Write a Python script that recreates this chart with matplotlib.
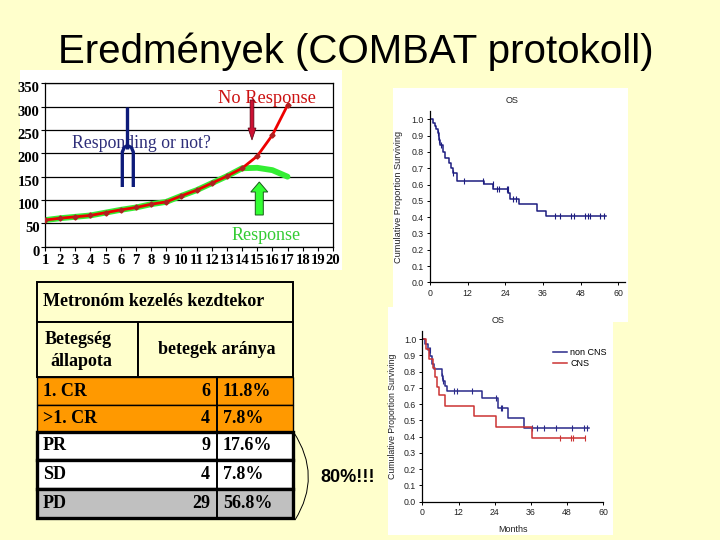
import numpy as np
import matplotlib
matplotlib.use('Agg')
import matplotlib.pyplot as plt
from matplotlib.patches import Rectangle, FancyArrow, PathPatch
from matplotlib.path import Path
from matplotlib.transforms import ScaledTranslation
from matplotlib import font_manager

# ---------------- data ----------------
weeks = list(range(1, 21))
week_labels = [str(w) for w in weeks]
y_ticks = [0, 50, 100, 150, 200, 250, 300, 350]

no_resp_x = list(range(1, 18))
no_resp_y = [57, 61, 64, 67, 73, 79, 84, 91, 96, 109, 121, 136, 151, 168, 194, 239, 303]
resp_x = list(range(1, 18))
resp_y = [57, 61, 64, 67, 73, 79, 84, 91, 96, 109, 121, 136, 151, 168, 169, 164, 150]

km_xticks = [0, 12, 24, 36, 48, 60]
km_yticks = [0.0, 0.1, 0.2, 0.3, 0.4, 0.5, 0.6, 0.7, 0.8, 0.9, 1.0]

# OS, all patients
km1_t = [0, 1.1, 1.5, 2.0, 2.4, 2.8, 3.3, 4.0, 4.8, 6.2, 6.7, 7.2, 8.5, 17.2, 20.2, 24.9, 25.5, 28.5, 34.0, 37.0, 56.0]
km1_s = [1.0, 0.98, 0.96, 0.94, 0.915, 0.875, 0.845, 0.80, 0.76, 0.735, 0.70, 0.668, 0.624, 0.603, 0.573, 0.546, 0.509, 0.479, 0.44, 0.407, 0.407]
km1_cens = [2.5, 3.0, 3.4, 7.4, 10.8, 16.8, 20.0, 21.4, 22.0, 24.4, 24.8, 26.6, 27.4,
            39.7, 41.3, 45.0, 45.8, 49.4, 50.2, 51.0, 54.3, 55.5]

# OS by CNS status
noncns_t = [0, 0.9, 1.8, 2.6, 3.1, 3.9, 6.4, 6.9, 7.4, 8.2, 19.9, 25.2, 28.3, 33.8, 55.2]
noncns_s = [1.0, 0.967, 0.935, 0.898, 0.844, 0.813, 0.775, 0.74, 0.711, 0.68, 0.635, 0.578, 0.512, 0.451, 0.451]
noncns_cens = [2.3, 2.5, 6.6, 7.0, 10.6, 11.4, 16.4, 24.4, 26.1, 26.5, 36.2, 37.9, 40.4, 44.2, 49.7, 53.7, 54.5]

cns_t = [0, 1.2, 2.3, 3.6, 4.2, 4.75, 5.6, 7.5, 17.2, 24.4, 36.4, 54.0]
cns_s = [1.0, 0.94, 0.88, 0.82, 0.768, 0.707, 0.656, 0.59, 0.527, 0.457, 0.39, 0.39]
cns_cens = [45.5, 49.2, 49.8, 54.0]

table_title = 'Metronóm kezelés kezdtekor'
table_head1 = ['Betegség', 'állapota']
table_head2 = 'betegek aránya'
table_rows = ['1. CR', '>1. CR', 'PR', 'SD', 'PD']
table_n = [6, 4, 9, 4, 29]
table_pct = ['11.8%', '7.8%', '17.6%', '7.8%', '56.8%']
row_colors = ['#FF9900', '#FF9900', '#FFFFFF', '#FFFFFF', '#C0C0C0']

# ---------------- figure ----------------
W, H = 720, 540
BG = '#FFFFCC'
plt.rcParams['font.family'] = ['Liberation Sans', 'DejaVu Sans']
SERIF = ['Liberation Serif', 'DejaVu Serif']
fig = plt.figure(figsize=(W / 100, H / 100), dpi=100, facecolor=BG)


def px_axes(x0, y0, x1, y1, z=1):
    a = fig.add_axes([x0 / W, 1 - y1 / H, (x1 - x0) / W, (y1 - y0) / H])
    a.set_zorder(z)
    return a


# background / drawing layer in pixel coordinates
bg = px_axes(0, 0, W, H, z=0)
bg.set_xlim(0, W)
bg.set_ylim(H, 0)
bg.axis('off')

# white panels
bg.add_patch(Rectangle((20, 70), 322, 200, fc='white', ec='none'))
bg.add_patch(Rectangle((393, 88), 235, 234, fc='white', ec='none'))
bg.add_patch(Rectangle((388, 307), 225, 228, fc='white', ec='none'))

# title
names = {f.name for f in font_manager.fontManager.ttflist}
if 'Liberation Sans Narrow' in names:
    bg.text(356, 63, 'Eredmények (COMBAT protokoll)', ha='center', va='baseline',
            fontsize=34, family=['Liberation Sans Narrow', 'Liberation Sans'])
else:
    bg.text(356, 63, 'Eredmények (COMBAT protokoll)', ha='center', va='baseline',
            fontsize=29, family=['Liberation Sans', 'DejaVu Sans'])

# ---------------- line chart ----------------
ax = px_axes(45, 83.3, 333, 246.7, z=1)
ax.set_facecolor('none')
ax.set_xlim(1, 20)
ax.set_ylim(0, 350)
ax.set_yticks(y_ticks)
ax.set_yticklabels([str(v) for v in y_ticks], family=SERIF, fontweight='bold', fontsize=10.5)
ax.set_xticks(weeks)
ax.set_xticklabels(week_labels, family=SERIF, fontweight='bold', fontsize=10.5)
ax.yaxis.grid(True, color='black', lw=0.9)
ax.set_axisbelow(True)
for sp in ax.spines.values():
    sp.set_color('black')
    sp.set_linewidth(0.9)
ax.tick_params(axis='both', direction='out', length=3, width=0.8, pad=2, colors='black')
ax.tick_params(axis='y', pad=1)
shift = ScaledTranslation(0, -0.04, fig.dpi_scale_trans)
for lab in ax.get_yticklabels():
    lab.set_transform(lab.get_transform() + shift)
ax.plot(resp_x, resp_y, color='#33EE33', lw=4.2, solid_capstyle='round', zorder=2)
ax.plot(no_resp_x, no_resp_y, color='#EE0000', lw=2.0, marker='D', ms=2.6,
        mfc='#B02020', mec='#B02020', zorder=3)
ax.text(15.65, 318, 'No Response', color='#CC1111', family=SERIF, fontsize=13.2,
        ha='center', va='center', zorder=4)
ax.text(2.76, 221.5, 'Responding or not?', color='#2E2E7A', family=SERIF, fontsize=12.8,
        ha='left', va='center', zorder=4)
ax.text(15.6, 25, 'Response', color='#33CC33', family=SERIF, fontsize=13,
        ha='center', va='center', zorder=4)

# ---------------- KM plots ----------------
def s_at(t, s, c):
    idx = np.searchsorted(np.array(t), np.array(c), side='right') - 1
    return np.array(s)[idx]


def style_km(a, xmax):
    a.set_facecolor('none')
    a.set_xlim(0, xmax)
    a.set_ylim(0, 1.05)
    a.set_xticks(km_xticks)
    a.set_yticks(km_yticks)
    a.set_yticklabels(['%.1f' % v for v in km_yticks])
    for k in ('top', 'right'):
        a.spines[k].set_visible(False)
    for k in ('left', 'bottom'):
        a.spines[k].set_linewidth(0.9)
        a.spines[k].set_color('black')
    a.tick_params(axis='both', direction='out', length=2.5, width=0.7, pad=2,
                  labelsize=6.3, labelcolor='#222222')


k1 = px_axes(430, 111.2, 624.6, 282.3, z=2)
style_km(k1, 62)
k1.step(km1_t, km1_s, where='post', color='#1C1C80', lw=1.1)
k1.plot(km1_cens, s_at(km1_t, km1_s, km1_cens), ls='none', marker='|', ms=4, mew=0.8, color='#1C1C80')
k1.text(0.42, 1.065, 'OS', transform=k1.transAxes, ha='center', va='center', fontsize=6.5, color='#222222')
k1.set_ylabel('Cumulative Proportion Surviving', fontsize=6.6, color='#222222')
k1.yaxis.set_label_coords(-0.137, 0.5)

k2 = px_axes(422.3, 330.9, 603.3, 501.7, z=3)
style_km(k2, 60)
k2.step(noncns_t, noncns_s, where='post', color='#2A2A8A', lw=1.1, label='non CNS')
k2.plot(noncns_cens, s_at(noncns_t, noncns_s, noncns_cens), ls='none', marker='|', ms=4, mew=0.8, color='#2A2A8A')
k2.step(cns_t, cns_s, where='post', color='#CC3333', lw=1.1, label='CNS')
k2.plot(cns_cens, s_at(cns_t, cns_s, cns_cens), ls='none', marker='|', ms=4, mew=0.8, color='#CC3333')
k2.text(0.417, 1.058, 'OS', transform=k2.transAxes, ha='center', va='center', fontsize=6.5, color='#222222')
k2.set_ylabel('Cumulative Proportion Surviving', fontsize=6.3, color='#222222')
k2.yaxis.set_label_coords(-0.141, 0.5)
k2.set_xlabel('Months', fontsize=6.5, color='#222222')
k2.xaxis.set_label_coords(0.5, -0.136)
k2.legend(loc='upper left', bbox_to_anchor=(0.722, 0.9), frameon=False, fontsize=6.5,
          handlelength=1.55, handletextpad=0.35, labelspacing=0.2, borderpad=0, borderaxespad=0)

# ---------------- table ----------------
xs = [37, 138.3, 216.7, 293.3]
ys = [282, 322, 377, 405, 432, 460, 488.5, 518]
TW = xs[3] - xs[0]
bg.add_patch(Rectangle((xs[0], ys[0]), TW, ys[1] - ys[0], fc=BG, ec='black', lw=1.4))
bg.add_patch(Rectangle((xs[0], ys[1]), xs[1] - xs[0], ys[2] - ys[1], fc=BG, ec='black', lw=1.4))
bg.add_patch(Rectangle((xs[1], ys[1]), xs[3] - xs[1], ys[2] - ys[1], fc=BG, ec='black', lw=1.4))
tfont = dict(family=SERIF, fontweight='bold', fontsize=13, color='black')
bg.text(43, 302, table_title, ha='left', va='center', **tfont)
bg.text(78.5, 340, table_head1[0], ha='center', va='center', **tfont)
bg.text(81, 362, table_head1[1], ha='center', va='center', **tfont)
bg.text(216.5, 350, table_head2, ha='center', va='center', **tfont)
for i, (lab, n, pct, col) in enumerate(zip(table_rows, table_n, table_pct, row_colors)):
    y0, y1 = ys[i + 2], ys[i + 3]
    thick = i >= 2
    bg.add_patch(Rectangle((xs[0], y0), TW, y1 - y0, fc=col, ec='black',
                           lw=2.4 if thick else 1.0, zorder=3 if thick else 2))
    bg.plot([xs[2], xs[2]], [y0, y1], color='black', lw=1.4, zorder=4)
    yc = (y0 + y1) / 2
    bg.text(43, yc, lab, ha='left', va='center', zorder=5, **tfont)
    bg.text(210, yc, str(n), ha='right', va='center', zorder=5, **tfont)
    bg.text(223, yc, pct, ha='left', va='center', zorder=5, **tfont)

# brace + comment
brace = Path([(293.5, 432), (322.4, 476), (295, 520)], [Path.MOVETO, Path.CURVE3, Path.CURVE3])
bg.add_patch(PathPatch(brace, fc='none', ec='black', lw=0.7, zorder=6))
bg.text(348, 478, '80%!!!', ha='center', va='center', fontsize=13, fontweight='bold', color='black')

# ---------------- top annotation layer ----------------
top = px_axes(0, 0, W, H, z=6)
top.set_xlim(0, W)
top.set_ylim(H, 0)
top.axis('off')
top.add_patch(FancyArrow(252, 100, 0, 40, width=3.8, head_width=8, head_length=12,
                         length_includes_head=True, fc='#CC1133', ec='#550011', lw=0.5))
top.add_patch(FancyArrow(259.3, 215, 0, -33, width=8, head_width=17, head_length=10,
                         length_includes_head=True, fc='#33FF33', ec='#1A5A1A', lw=0.7))
navy = '#0D1B7A'
top.plot([127.3, 127.3], [106.7, 149], color=navy, lw=2.4, solid_capstyle='butt')
top.plot([122.3, 122.3, 124.2, 127.3, 131.4, 133.3, 133.3],
         [187, 152, 147.5, 145.5, 147.5, 152, 187], color=navy, lw=2.4, solid_capstyle='butt')

fig.savefig('out.png', dpi=100, facecolor=BG)
